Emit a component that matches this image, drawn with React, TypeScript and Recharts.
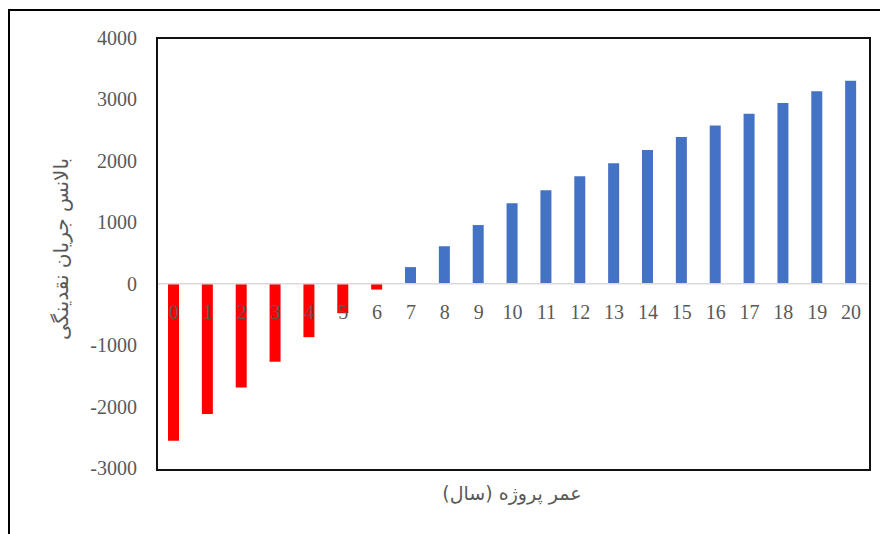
import React from 'react';
import { BarChart, Bar, XAxis, YAxis, Cell, ReferenceLine } from 'recharts';

// yearly cash-flow balance over the project life
const years = ['0', '1', '2', '3', '4', '5', '6', '7', '8', '9', '10', '11', '12', '13', '14', '15', '16', '17', '18', '19', '20'];
const balance = [-2555, -2120, -1690, -1270, -870, -480, -95, 270, 610, 955, 1310, 1520, 1750, 1960, 2175, 2390, 2575, 2765, 2940, 3135, 3305];
const yTicks = [-3000, -2000, -1000, 0, 1000, 2000, 3000, 4000];

const xTitle = 'عمر پروژه (سال)';
const yTitle = 'بالانس جریان نقدینگی';

const W = 880;
const H = 534;
const PLOT_LEFT = 157;
const PLOT_TOP = 38;
const PLOT_RIGHT = 12;
const PLOT_BOTTOM = 66;
const PLOT_H = H - PLOT_TOP - PLOT_BOTTOM;
const Y_MIN = yTicks[0];
const Y_MAX = yTicks[yTicks.length - 1];
const ZERO_Y = PLOT_TOP + (PLOT_H * Y_MAX) / (Y_MAX - Y_MIN);

const POSITIVE = '#4472C4';
const NEGATIVE = '#FF0000';
const TEXT = '#595959';
const SERIF = '"Liberation Serif", "Times New Roman", serif';

const data = years.map((year, i) => ({ year, value: balance[i] }));

// category labels sit just under the zero line, not at the bottom of the plot
const YearTick = (props: any) => {
  const { x, payload } = props;
  return (
    <text x={x} y={ZERO_Y + 35} textAnchor="middle" fill={TEXT} fontSize={20} fontFamily={SERIF}>
      {payload.value}
    </text>
  );
};

const ValueTick = (props: any) => {
  const { y, payload } = props;
  return (
    <text x={137} y={y + 7} textAnchor="end" fill={TEXT} fontSize={20} fontFamily={SERIF}>
      {payload.value}
    </text>
  );
};

const App: React.FC = () => {
  return (
    <div style={{ position: 'absolute', left: 0, top: 0, width: W, height: H, overflow: 'hidden', background: '#fff' }}>
      <div
        style={{
          position: 'absolute',
          left: 8,
          top: 9,
          width: W + 40,
          height: H + 40,
          border: '2px solid #000',
        }}
      />
      <div style={{ position: 'absolute', left: 0, top: 0 }}>
        <BarChart
          width={W}
          height={H}
          data={data}
          margin={{ top: PLOT_TOP, right: PLOT_RIGHT, bottom: 0, left: 0 }}
        >
          <XAxis
            dataKey="year"
            height={PLOT_BOTTOM}
            axisLine={false}
            tickLine={false}
            interval={0}
            tick={<YearTick />}
          />
          <YAxis
            width={PLOT_LEFT}
            domain={[Y_MIN, Y_MAX]}
            ticks={yTicks}
            interval={0}
            axisLine={false}
            tickLine={false}
            tick={<ValueTick />}
          />
          <ReferenceLine y={0} stroke="#D9D9D9" strokeWidth={1.5} />
          <Bar dataKey="value" barSize={11} isAnimationActive={false}>
            {data.map((d) => (
              <Cell key={d.year} fill={d.value < 0 ? NEGATIVE : POSITIVE} />
            ))}
          </Bar>
        </BarChart>
      </div>
      {/* plot-area frame */}
      <div
        style={{
          position: 'absolute',
          left: PLOT_LEFT - 1,
          top: PLOT_TOP - 1,
          width: W - PLOT_LEFT - PLOT_RIGHT,
          height: PLOT_H,
          border: '2px solid #111',
          pointerEvents: 'none',
        }}
      />
      <div
        dir="rtl"
        style={{
          position: 'absolute',
          left: 61,
          top: 249,
          transform: 'translate(-50%, -50%) rotate(-90deg)',
          whiteSpace: 'nowrap',
          fontSize: 20,
          color: TEXT,
          fontFamily: '"DejaVu Sans", sans-serif',
        }}
      >
        {yTitle}
      </div>
      <div
        dir="rtl"
        style={{
          position: 'absolute',
          left: 512,
          top: 493,
          transform: 'translate(-50%, -50%)',
          whiteSpace: 'nowrap',
          fontSize: 19,
          color: TEXT,
          fontFamily: '"DejaVu Sans", sans-serif',
        }}
      >
        {xTitle}
      </div>
    </div>
  );
};

export default App;
